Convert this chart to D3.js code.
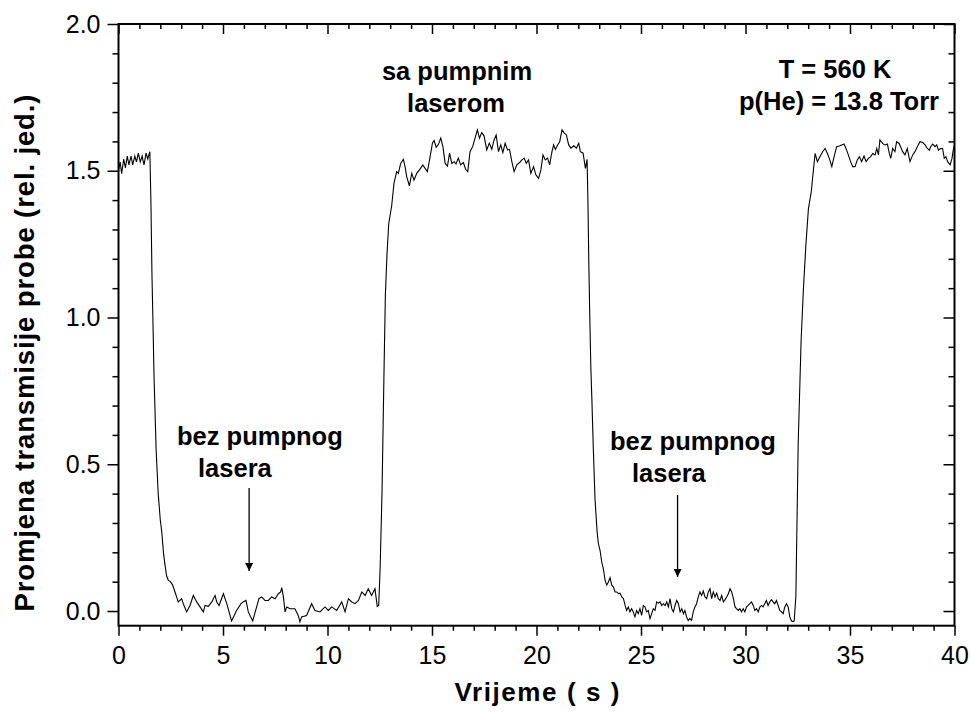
<!DOCTYPE html>
<html><head><meta charset="utf-8">
<script src="https://cdn.jsdelivr.net/npm/d3@7"></script>
<style>
body{margin:0;background:#fff;}
text{font-family:"Liberation Sans",Arial,Helvetica,sans-serif;fill:#000;}
</style></head>
<body>
<script>
// ---- data ----
const timeS = [
0.00,0.08,0.15,0.25,0.33,0.42,0.50,0.60,0.68,0.78,0.86,0.95,1.04,1.13,1.22,1.32,1.40,1.50,
1.55,1.60,1.65,1.70,1.80,1.90,2.00,2.07,2.15,2.22,2.30,2.38,2.48,2.58,2.68,2.78,2.86,3.02,3.10,3.26,3.42,3.58,3.74,3.90,
4.06,4.14,4.30,4.46,4.62,4.70,4.81,5.02,5.18,5.41,5.65,5.86,5.97,6.10,6.21,6.42,6.61,6.72,6.85,7.01,7.17,7.33,7.49,7.65,
7.76,7.81,7.89,7.97,8.05,8.21,8.44,8.60,8.68,8.76,9.00,9.24,9.40,9.64,9.88,10.04,10.20,10.44,10.68,10.84,11.00,11.16,11.32,
11.48,11.64,11.80,11.95,12.11,12.27,12.38,12.45,
12.52,12.61,12.70,12.77,12.85,12.93,13.00,13.07,13.18,13.31,13.39,13.50,13.63,13.71,13.79,13.92,14.03,14.14,14.27,14.40,
14.56,14.67,14.78,14.91,15.02,15.10,15.20,15.31,15.42,15.52,15.63,15.74,15.84,15.95,16.06,16.15,16.26,16.37,16.50,16.61,
16.71,16.82,16.95,17.06,17.17,17.27,17.38,17.49,17.62,17.74,17.86,17.97,18.07,18.18,18.29,18.39,18.50,18.61,18.71,18.82,
18.93,19.06,19.19,19.30,19.41,19.51,19.62,19.73,19.86,19.97,20.10,20.21,20.31,20.42,20.53,20.63,20.74,20.82,20.90,21.01,
21.11,21.22,21.33,21.43,21.54,21.65,21.78,21.91,22.02,22.10,22.23,22.34,22.42,
22.46,22.50,22.55,22.60,22.65,22.72,22.80,22.90,22.96,23.04,23.12,23.20,23.28,23.36,23.44,23.52,23.60,23.68,23.76,23.84,
23.92,24.00,24.08,24.16,24.24,24.31,24.39,24.47,24.55,24.63,24.71,24.79,24.87,24.95,25.03,25.11,25.19,25.27,25.35,25.43,
25.51,25.59,25.67,25.75,25.83,25.91,25.99,26.07,26.15,26.23,26.31,26.39,26.47,26.55,26.63,26.71,26.79,26.87,26.95,27.03,
27.10,27.18,27.26,27.34,27.42,27.50,27.58,27.66,27.74,27.82,27.90,27.98,28.06,28.14,28.22,28.30,28.38,28.46,28.54,28.62,
28.70,28.78,28.86,28.94,29.02,29.10,29.18,29.26,29.34,29.42,29.50,29.57,29.65,29.73,29.81,29.89,29.97,30.05,30.13,30.21,
30.29,30.37,30.45,30.53,30.61,30.69,30.77,30.84,30.92,31.00,31.08,31.16,31.24,31.32,31.40,31.48,31.56,31.64,31.72,31.80,
31.88,31.96,32.04,32.12,32.20,32.28,32.33,
32.41,32.52,32.66,32.77,32.89,33.01,33.15,33.25,33.33,33.44,33.56,33.69,33.81,33.92,34.01,34.13,34.24,34.36,34.49,34.60,
34.71,34.81,34.92,35.03,35.13,35.24,35.35,35.45,35.56,35.67,35.77,35.88,35.99,36.09,36.20,36.28,36.36,36.43,36.56,36.67,
36.79,36.88,36.95,37.04,37.15,37.23,37.35,37.42,37.52,37.63,37.74,37.87,38.00,38.11,38.22,38.35,38.48,38.59,38.70,38.80,
38.86,38.96,39.07,39.15,39.23,39.34,39.43,39.51,39.59,39.67,39.79,39.88,39.94,40.00
];
const transmission = [
1.50,1.53,1.49,1.54,1.51,1.55,1.52,1.55,1.52,1.55,1.53,1.56,1.53,1.55,1.52,1.56,1.54,1.565,
1.40,1.15,0.98,0.80,0.55,0.40,0.31,0.27,0.20,0.16,0.12,0.105,0.10,0.09,0.07,0.048,0.031,0.042,0.025,-0.003,0.019,0.053,0.031,0.014,
-0.003,0.019,0.016,0.031,0.053,0.031,0.019,0.059,0.025,-0.034,0.002,0.025,0.031,0.036,-0.003,-0.034,0.014,0.042,0.048,0.036,0.036,0.048,0.042,0.059,
0.065,0.080,0.048,-0.003,0.014,0.008,0.008,-0.015,-0.037,-0.020,-0.015,0.025,0.002,-0.003,0.014,0.002,0.014,0.002,0.031,-0.003,0.042,0.031,0.025,
0.036,0.065,0.053,0.076,0.053,0.076,0.016,0.019,
0.15,0.41,0.80,1.08,1.22,1.32,1.35,1.38,1.457,1.497,1.491,1.525,1.539,1.514,1.480,1.448,1.491,1.468,1.491,1.503,
1.520,1.508,1.497,1.548,1.594,1.603,1.580,1.590,1.611,1.583,1.525,1.516,1.560,1.525,1.531,1.523,1.543,1.520,1.528,1.505,
1.497,1.565,1.583,1.611,1.639,1.611,1.630,1.619,1.571,1.594,1.573,1.605,1.622,1.565,1.588,1.562,1.594,1.571,1.573,1.531,
1.497,1.520,1.528,1.537,1.543,1.525,1.537,1.491,1.514,1.486,1.474,1.503,1.554,1.537,1.543,1.520,1.565,1.588,1.573,1.588,
1.599,1.639,1.628,1.622,1.588,1.577,1.585,1.577,1.594,1.565,1.560,1.508,1.539,
1.40,1.20,1.00,0.83,0.72,0.55,0.38,0.27,0.23,0.207,0.167,0.144,0.105,0.088,0.099,0.114,0.088,0.082,0.065,0.065,
0.059,0.061,0.048,0.042,0.019,0.002,0.014,-0.003,0.008,-0.003,-0.020,0.002,-0.009,0.008,-0.015,0.019,0.014,-0.003,0.002,-0.026,
-0.009,0.008,0.002,0.031,0.027,0.031,0.019,0.025,0.019,0.031,0.014,0.042,0.008,-0.003,0.019,0.036,0.025,-0.003,0.008,-0.009,
0.002,-0.020,-0.032,-0.026,-0.032,-0.003,0.014,0.025,0.048,0.065,0.053,0.068,0.048,0.042,0.065,0.076,0.042,0.065,0.048,0.061,
0.042,0.036,0.053,0.031,0.039,0.048,0.059,0.076,0.065,0.042,0.014,0.008,0.002,0.008,-0.003,0.008,-0.003,0.014,0.019,0.025,
0.031,0.019,0.002,0.008,-0.003,0.014,0.019,0.014,0.025,0.036,0.019,0.031,0.039,0.031,0.025,0.036,0.019,0.002,-0.003,-0.009,
0.014,0.025,0.014,-0.020,-0.034,-0.036,-0.034,
0.05,0.567,0.92,1.095,1.248,1.37,1.43,1.503,1.559,1.531,1.548,1.565,1.576,1.559,1.542,1.514,1.548,1.582,1.584,1.588,
1.591,1.576,1.554,1.531,1.514,1.514,1.537,1.548,1.531,1.550,1.531,1.542,1.548,1.559,1.554,1.576,1.554,1.605,1.593,1.588,
1.591,1.559,1.542,1.576,1.565,1.599,1.593,1.582,1.565,1.554,1.576,1.531,1.554,1.565,1.582,1.599,1.596,1.588,1.576,1.570,
1.582,1.591,1.582,1.588,1.570,1.576,1.576,1.542,1.548,1.531,1.520,1.542,1.570,1.588
];
const xMajorTicks = [0,5,10,15,20,25,30,35,40];
const yMajorTicks = [0.0,0.5,1.0,1.5,2.0];
const xTitle = "Vrijeme ( s )";
const yTitle = "Promjena transmisije probe (rel. jed.)";

// ---- layout ----
const W = 970, H = 713;
const L = 118.5, R = 954.5, T = 24, B = 625.7;
const svg = d3.select("body").append("svg").attr("width", W).attr("height", H);

const x = d3.scaleLinear().domain([0, 40]).range([L, R]);
const y = d3.scaleLinear().domain([-0.05, 2.0]).range([B, T]);

const xMinor = d3.range(0, 41, 1).filter(v => v % 5 !== 0);
const yMinor = d3.range(0, 21, 1).map(v => v / 10).filter(v => Math.round(v * 10) % 5 !== 0);

function styleAxis(g) {
  g.select(".domain").remove();
  g.selectAll(".tick line").attr("stroke", "#000").attr("stroke-width", 1.5);
  g.selectAll(".tick text").style("font-size", "25px").attr("fill", "#000");
}

// bottom
svg.append("g").attr("transform", `translate(0,${B})`)
  .call(d3.axisBottom(x).tickValues(xMajorTicks).tickSize(10).tickPadding(11).tickFormat(d3.format("d")))
  .call(styleAxis);
svg.append("g").attr("transform", `translate(0,${B})`)
  .call(d3.axisBottom(x).tickValues(xMinor).tickSize(5).tickFormat(""))
  .call(styleAxis);
// top (inward)
svg.append("g").attr("transform", `translate(0,${T})`)
  .call(d3.axisBottom(x).tickValues(xMajorTicks).tickSize(10).tickFormat(""))
  .call(styleAxis);
svg.append("g").attr("transform", `translate(0,${T})`)
  .call(d3.axisBottom(x).tickValues(xMinor).tickSize(5).tickFormat(""))
  .call(styleAxis);
// left
svg.append("g").attr("transform", `translate(${L},0)`)
  .call(d3.axisLeft(y).tickValues(yMajorTicks).tickSize(11).tickPadding(7).tickFormat(d3.format(".1f")))
  .call(styleAxis);
svg.append("g").attr("transform", `translate(${L},0)`)
  .call(d3.axisLeft(y).tickValues(yMinor).tickSize(6).tickFormat(""))
  .call(styleAxis);
// right (inward)
svg.append("g").attr("transform", `translate(${R},0)`)
  .call(d3.axisLeft(y).tickValues(yMajorTicks).tickSize(11).tickFormat(""))
  .call(styleAxis);
svg.append("g").attr("transform", `translate(${R},0)`)
  .call(d3.axisLeft(y).tickValues(yMinor).tickSize(6).tickFormat(""))
  .call(styleAxis);

// frame
svg.append("rect").attr("x", L).attr("y", T).attr("width", R - L).attr("height", B - T)
  .attr("fill", "none").attr("stroke", "#000").attr("stroke-width", 2);

// trace
svg.append("clipPath").attr("id", "clip").append("rect")
  .attr("x", L).attr("y", T).attr("width", R - L).attr("height", B - T);
const pts = timeS.map((t, i) => [t, transmission[i]]);
svg.append("path").datum(pts)
  .attr("clip-path", "url(#clip)")
  .attr("fill", "none").attr("stroke", "#000").attr("stroke-width", 1.1)
  .attr("d", d3.line().x(d => x(d[0])).y(d => y(d[1])));

// axis titles
svg.append("text").attr("x", 537).attr("y", 701).attr("text-anchor", "middle")
  .attr("textLength", 165).attr("lengthAdjust", "spacing")
  .style("font-size", "26px").style("font-weight", "bold").text(xTitle);
svg.append("text").attr("transform", "translate(34,353) rotate(-90)").attr("text-anchor", "middle")
  .attr("textLength", 517).attr("lengthAdjust", "spacing")
  .style("font-size", "27.5px").style("font-weight", "bold").text(yTitle);

// annotations
const ann = [
  {t: "bez pumpnog", x: 177, y: 445, a: "start"},
  {t: "lasera", x: 198, y: 477, a: "start"},
  {t: "bez pumpnog", x: 610, y: 450, a: "start"},
  {t: "lasera", x: 632, y: 482, a: "start"},
  {t: "sa pumpnim", x: 457, y: 80, a: "middle"},
  {t: "laserom", x: 456, y: 112, a: "middle"},
  {t: "T = 560 K", x: 835, y: 78, a: "middle"},
  {t: "p(He) = 13.8 Torr", x: 839, y: 110, a: "middle"}
];
svg.selectAll("text.ann").data(ann).enter().append("text").attr("class", "ann")
  .attr("x", d => d.x).attr("y", d => d.y).attr("text-anchor", d => d.a)
  .style("font-size", "25.5px").style("font-weight", "bold").text(d => d.t);

// arrows
const defs = svg.append("defs");
defs.append("marker").attr("id", "ah").attr("viewBox", "0 0 10 10").attr("refX", 10).attr("refY", 5)
  .attr("markerWidth", 8).attr("markerHeight", 8).attr("markerUnits", "userSpaceOnUse").attr("orient", "auto")
  .append("path").attr("d", "M0,0 L10,5 L0,10 z").attr("fill", "#000");
const arrows = [{x: 6.25, y1: 488, y2: 571}, {x: 26.75, y1: 495, y2: 577}];
svg.selectAll("line.arr").data(arrows).enter().append("line").attr("class", "arr")
  .attr("x1", d => x(d.x)).attr("x2", d => x(d.x)).attr("y1", d => d.y1).attr("y2", d => d.y2)
  .attr("stroke", "#000").attr("stroke-width", 1.3).attr("marker-end", "url(#ah)");
</script>
</body></html>
